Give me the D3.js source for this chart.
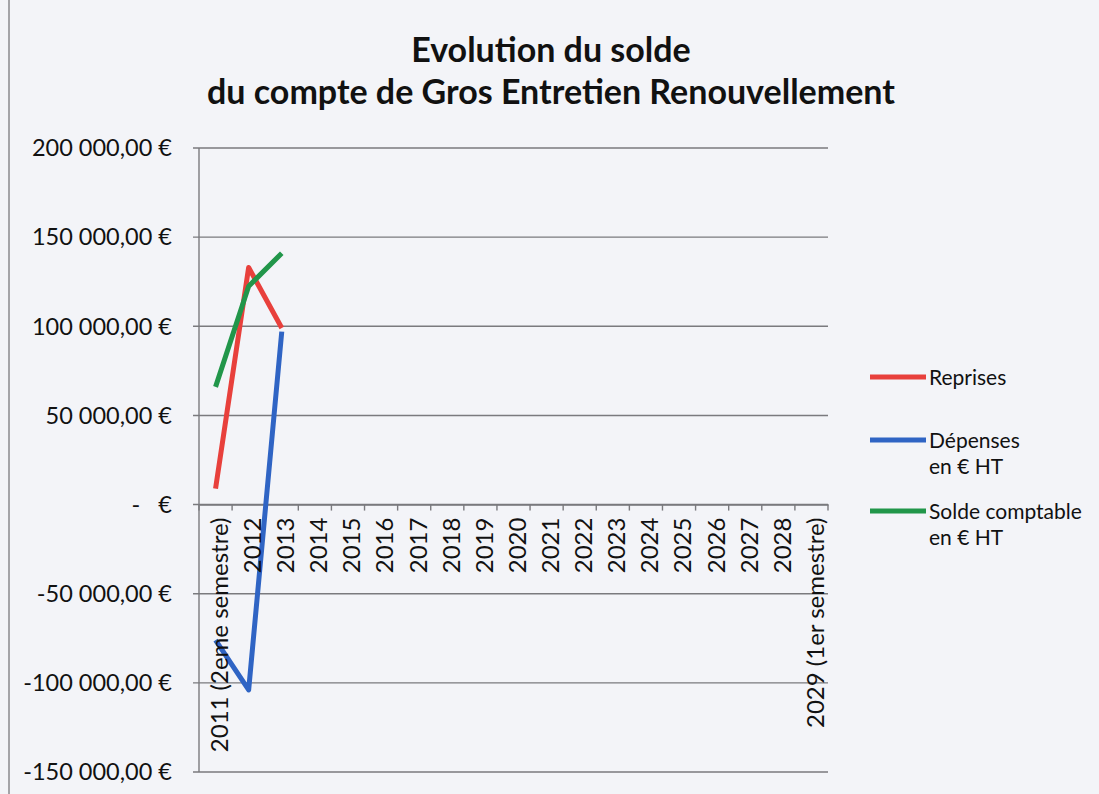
<!DOCTYPE html>
<html>
<head>
<meta charset="utf-8">
<script src="https://cdn.jsdelivr.net/npm/d3@7"></script>
<style>
  html, body { margin: 0; padding: 0; background: #f3f4f8; }
  svg { display: block; }
</style>
</head>
<body>
<svg id="chart" width="1099" height="794"></svg>
<script>
const categories = ["2011 (2eme semestre)", "2012", "2013", "2014", "2015", "2016", "2017", "2018", "2019", "2020", "2021", "2022", "2023", "2024", "2025", "2026", "2027", "2028", "2029 (1er semestre)"];
const reprises = [9000, 133000, 99000];
const depenses = [-76000, -104000, 97000];
const solde = [66000, 122500, 141000];
const yTicks = [200000, 150000, 100000, 50000, 0, -50000, -100000, -150000];
const titleLines = ["Evolution du solde", "du compte de Gros Entretien Renouvellement"];
const seriesNames = [["Reprises"], ["Dépenses", "en € HT"], ["Solde comptable", "en € HT"]];

(function () {
const svg = d3.select("#chart");
const W = 1099, H = 794;
svg.append("rect").attr("width", W).attr("height", H).attr("fill", "#f3f4f8");
// scan border line at left
svg.append("line").attr("x1", 9).attr("x2", 9).attr("y1", 0).attr("y2", H)
  .attr("stroke", "#8a8a8e").attr("stroke-width", 1.5);

const pLeft = 199, pRight = 828, pTop = 148, pBottom = 772;
const x = d3.scaleBand().domain(categories).range([pLeft, pRight]);
const y = d3.scaleLinear().domain([-150000, 200000]).range([pBottom, pTop]);

const font = "Lato, 'Open Sans', sans-serif";

// gridlines
svg.append("g").selectAll("line").data(yTicks).join("line")
  .attr("x1", pLeft - 6).attr("x2", pRight)
  .attr("y1", d => y(d)).attr("y2", d => y(d))
  .attr("stroke", "#7a7a7e").attr("stroke-width", 1.4);

// vertical axis
svg.append("line").attr("x1", pLeft).attr("x2", pLeft).attr("y1", pTop).attr("y2", pBottom)
  .attr("stroke", "#7a7a7e").attr("stroke-width", 1.4);

// y labels
function fmt(v) {
  if (v === 0) return "-   €";
  const s = d3.format(",.2f")(v).replace(/,/g, " ").replace(".", ",");
  return s.replace("−", "-") + " €";
}
svg.append("g").selectAll("text").data(yTicks).join("text")
  .attr("x", 172).attr("y", d => y(d)).attr("dy", "0.35em")
  .attr("text-anchor", "end")
  .attr("font-family", font).attr("font-size", 23.5).attr("fill", "#111")
  .style("white-space", "pre")
  .text(d => fmt(d));

// x axis at zero
const xAxis = d3.axisBottom(x).tickSize(0).tickFormat("");
const gx = svg.append("g").attr("transform", `translate(0,${y(0)})`).call(xAxis);
gx.select(".domain").attr("stroke", "#7a7a7e").attr("stroke-width", 1.4);
gx.selectAll(".tick").remove();
gx.selectAll("line.bt").data(d3.range(categories.length + 1)).join("line")
  .attr("class", "bt")
  .attr("x1", i => pLeft + i * x.step()).attr("x2", i => pLeft + i * x.step())
  .attr("y1", 0).attr("y2", 6).attr("stroke", "#7a7a7e").attr("stroke-width", 1.4);

// lines
const line = d3.line().x((d, i) => x(categories[i]) + x.bandwidth() / 2).y(d => y(d));
const colors = ["#e8403c", "#2f64c4", "#21964a"];
const series = [reprises, depenses, solde];
series.forEach((s, k) => {
  svg.append("path").datum(s).attr("d", line)
    .attr("fill", "none").attr("stroke", colors[k]).attr("stroke-width", 5)
    .attr("stroke-linejoin", "round");
});

// x labels (rotated, on top)
svg.append("g").selectAll("text").data(categories).join("text")
  .attr("transform", d => `translate(${x(d) + x.bandwidth() / 2 + 4},${y(0) + 13}) rotate(-90)`)
  .attr("dy", "0.35em")
  .attr("text-anchor", "end")
  .attr("font-family", font).attr("font-size", 24).attr("fill", "#111")
  .text(d => d);

// title
svg.append("g").selectAll("text").data(titleLines).join("text")
  .attr("x", 551).attr("y", (d, i) => 62 + i * 42)
  .attr("text-anchor", "middle")
  .attr("font-family", font).attr("font-weight", "bold").attr("font-size", 34).attr("fill", "#111")
  .text(d => d);

// legend
const legY = [377, 440, 511];
seriesNames.forEach((names, k) => {
  svg.append("line").attr("x1", 870).attr("x2", 926).attr("y1", legY[k]).attr("y2", legY[k])
    .attr("stroke", colors[k]).attr("stroke-width", 5);
  names.forEach((n, j) => {
    svg.append("text").attr("x", 929).attr("y", legY[k] + 8 + j * 26)
      .attr("font-family", font).attr("font-size", 21).attr("fill", "#111")
      .text(n);
  });
});
})();
</script>
</body>
</html>
